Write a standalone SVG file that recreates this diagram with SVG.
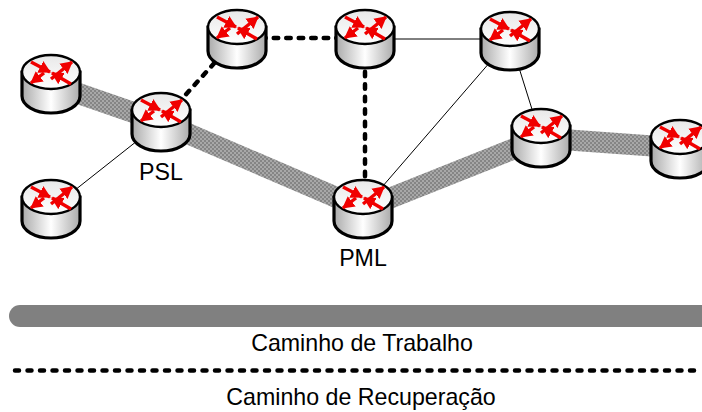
<svg xmlns="http://www.w3.org/2000/svg" width="702" height="412" viewBox="0 0 702 412">
<style>
text{font-family:"Liberation Sans",Arial,sans-serif;font-size:23.200px;fill:#000;text-anchor:middle}
.work{stroke:url(#dither);stroke-width:21;fill:none}
.thin{stroke:#000;stroke-width:1;fill:none}
.rec{stroke:#000;stroke-width:4.500;fill:none;stroke-linecap:round;stroke-dasharray:4.500 8}
.body{fill:url(#side);stroke:#000;stroke-width:3.200}
.top{fill:url(#lid);stroke:#000;stroke-width:2.400}
.arr{stroke:#f00000;stroke-width:3.400;fill:none;marker-end:url(#h)}
</style>
<defs>
<pattern id="dither" width="4" height="4" patternUnits="userSpaceOnUse">
<rect width="4" height="4" fill="#a8a8a8"/><rect width="2" height="2" fill="#858585"/><rect x="2" y="2" width="2" height="2" fill="#858585"/>
</pattern>
<linearGradient id="side"><stop offset="0" stop-color="#aaa"/><stop offset=".5" stop-color="#fff"/><stop offset="1" stop-color="#aaa"/></linearGradient>
<linearGradient id="lid" x1="0" y1="0" x2="0" y2="1"><stop offset="0" stop-color="#e8e8e8"/><stop offset="1" stop-color="#fff"/></linearGradient>
<marker id="h" markerUnits="userSpaceOnUse" markerWidth="14" markerHeight="14" refX="11" refY="7" orient="auto"><path d="M0 0.500L12 7L0 13.500Z" fill="#f00000"/></marker>
<g id="router">
<path class="body" d="M-29 0V24A29 17 0 0 0 29 24V0Z"/>
<ellipse class="top" cx="0" cy="0" rx="29" ry="17"/>
<path class="arr" d="M-20-10L-1 0"/><path class="arr" d="M0 7L21-10"/><path class="arr" d="M-7 1L-20 11"/><path class="arr" d="M20 12L1 1"/>
</g>
</defs>
<rect width="702" height="412" fill="#fff"/>
<g id="connectors">
<path class="work" d="M51 84L161 122L363 209L541 138L680 148"/>
<path class="thin" d="M51 209L161 122M365 39H510M363 209L510 39M510 39L541 138"/>
<path class="rec" d="M161 122L237 38H365V209"/>
<rect x="9" y="305" width="720" height="22" rx="11" fill="#808080"/>
<path d="M15 370.500H702" stroke="#000" stroke-width="4.500" stroke-linecap="round" stroke-dasharray="4 8.500" fill="none"/>
</g>
<g id="r1"><use href="#router" x="51" y="72"/></g>
<g id="r2"><use href="#router" x="51" y="197"/></g>
<g id="psl"><use href="#router" x="161" y="110"/><text x="161" y="180">PSL</text></g>
<g id="r3"><use href="#router" x="237" y="27"/></g>
<g id="r4"><use href="#router" x="365" y="27"/></g>
<g id="r5"><use href="#router" x="510" y="29"/></g>
<g id="r6"><use href="#router" x="541" y="126"/></g>
<g id="r7"><use href="#router" x="680" y="137"/></g>
<g id="pml"><use href="#router" x="363" y="197"/><text x="363" y="266">PML</text></g>
<g id="legend"><text x="362" y="351">Caminho de Trabalho</text><text x="361" y="405">Caminho de Recuperação</text></g>
</svg>
